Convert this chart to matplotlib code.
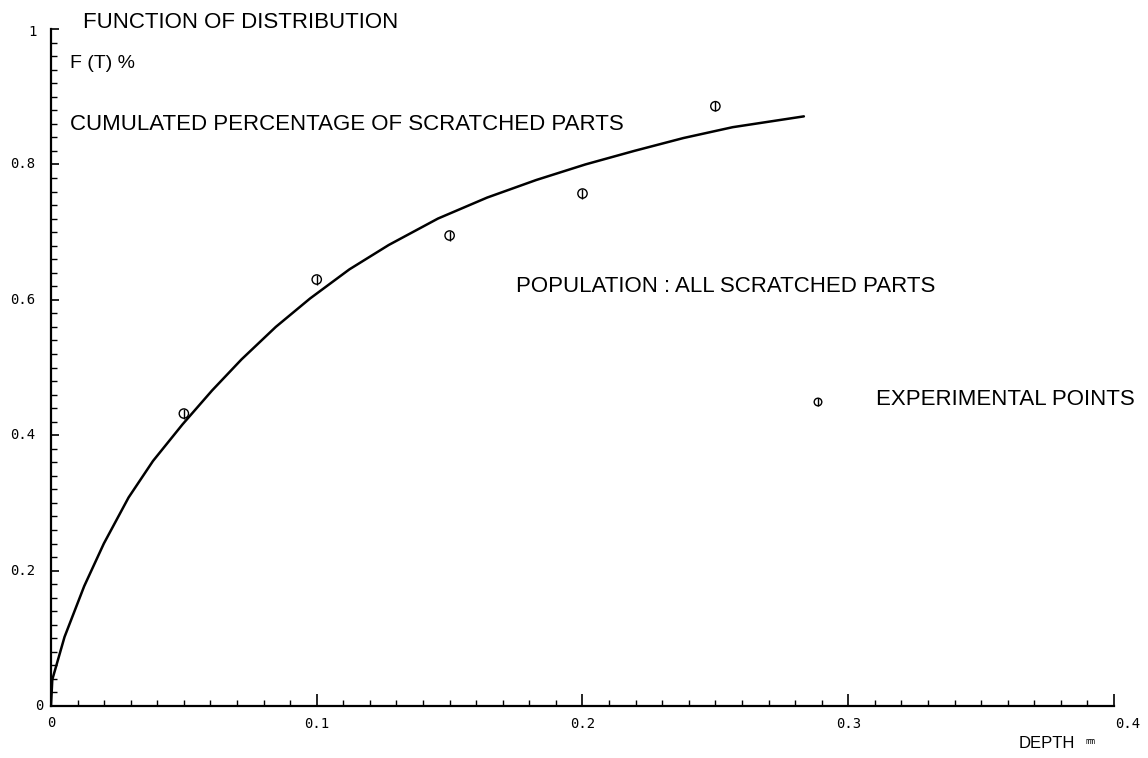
import matplotlib
matplotlib.use("Agg")
import matplotlib.pyplot as plt
from matplotlib.ticker import MultipleLocator, FixedLocator

# Data
curve_x = [0, 0.0005, 0.0051, 0.0125, 0.0199, 0.0292, 0.0384, 0.0495, 0.0606,
           0.0717, 0.0846, 0.0975, 0.1123, 0.1271, 0.1456, 0.1641, 0.1826,
           0.2011, 0.2195, 0.238, 0.2565, 0.2833]
curve_y = [0, 0.039, 0.102, 0.177, 0.240, 0.308, 0.362, 0.416, 0.466,
           0.512, 0.560, 0.602, 0.645, 0.681, 0.720, 0.751, 0.777,
           0.800, 0.820, 0.839, 0.855, 0.871]
points_x = [0.05, 0.10, 0.15, 0.20, 0.25]
points_y = [0.432, 0.630, 0.695, 0.757, 0.886]
xtick_vals = [0, 0.1, 0.2, 0.3, 0.4]
xtick_labels = ["0", "0.1", "0.2", "0.3", "0.4"]
ytick_vals = [0, 0.2, 0.4, 0.6, 0.8, 1.0]
ytick_labels = ["0", "0.2", "0.4", "0.6", "0.8", "1"]

sans = "Liberation Sans"
mono = "DejaVu Sans Mono"

fig = plt.figure(figsize=(11.48, 7.58), dpi=100)
ax = fig.add_axes([0.0444, 0.0686, 0.926, 0.8931])
ax.set_xlim(0, 0.4)
ax.set_ylim(0, 1)

ax.plot(curve_x, curve_y, color="black", lw=1.8, solid_capstyle="round", solid_joinstyle="round")
ax.scatter(points_x, points_y, s=45, facecolors="none", edgecolors="black", lw=1.0, zorder=3)
ax.scatter(points_x, points_y, s=45, marker="|", color="black", lw=1.0, zorder=3)

for s in ["top", "right"]:
    ax.spines[s].set_visible(False)
ax.spines["left"].set_linewidth(1.6)
ax.spines["bottom"].set_linewidth(1.6)

ax.xaxis.set_major_locator(FixedLocator(xtick_vals))
ax.yaxis.set_major_locator(FixedLocator(ytick_vals))
ax.xaxis.set_minor_locator(MultipleLocator(0.01))
ax.yaxis.set_minor_locator(MultipleLocator(0.02))
ax.set_xticklabels([])
ax.set_yticklabels([])
ax.tick_params(axis="x", which="major", direction="in", length=9, width=1.2)
ax.tick_params(axis="x", which="minor", direction="in", length=4, width=1.0)
ax.tick_params(axis="y", which="major", direction="in", length=6, width=1.2)
ax.tick_params(axis="y", which="minor", direction="in", length=4, width=1.0)

tf = dict(family=mono, fontsize=10, color="black", ha="center", va="center",
          textcoords="offset pixels")
x_off = {0: (0, -17), 0.4: (14, -18)}
for v, lab in zip(xtick_vals, xtick_labels):
    ax.annotate(lab, (v, 0), xytext=x_off.get(v, (0, -18)), **tf)
y_off = {0: (-12, 0), 1.0: (-18, -3)}
for v, lab in zip(ytick_vals, ytick_labels):
    ax.annotate(lab, (0, v), xytext=y_off.get(v, (-28, 0)), **tf)

txt = dict(family=sans, color="black", va="center", ha="left")
fig.text(83/1148, 1 - 22/758, "FUNCTION OF DISTRIBUTION", fontsize=16, **txt)
fig.text(70/1148, 1 - 64/758, "F (T) %", fontsize=14, **txt)
fig.text(70/1148, 1 - 124/758, "CUMULATED PERCENTAGE OF SCRATCHED PARTS", fontsize=16, **txt)
fig.text(516/1148, 1 - 286/758, "POPULATION : ALL SCRATCHED PARTS", fontsize=16, **txt)
fig.text(876/1148, 1 - 399/758, "EXPERIMENTAL POINTS", fontsize=16, **txt)
fig.text(1019/1148, 1 - 743/758, "DEPTH", fontsize=12, **txt)
fig.text(1085/1148, 1 - 741/758, "mm", fontsize=6, family=mono, color="black", va="center", ha="left")

leg_ax = fig.add_axes([0, 0, 1, 1], facecolor="none")
leg_ax.set_xlim(0, 1148)
leg_ax.set_ylim(758, 0)
leg_ax.axis("off")
leg_ax.scatter([818], [402], s=30, facecolors="none", edgecolors="black", lw=1.0)
leg_ax.scatter([818], [402], s=30, marker="|", color="black", lw=1.0)

fig.savefig("out.png", dpi=100)
